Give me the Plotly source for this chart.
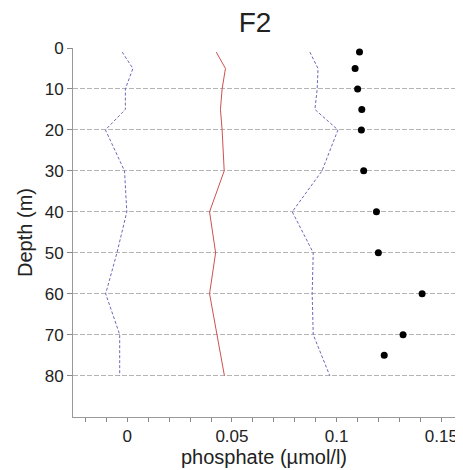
import plotly.graph_objects as go

line_depth = [1, 5, 10, 15, 20, 30, 40, 50, 60, 70, 80]
mean_vals = [0.0425, 0.0469, 0.0453, 0.0445, 0.0453, 0.0463, 0.0393, 0.0422, 0.0393, 0.0428, 0.0464]
lower_vals = [-0.0024, 0.0027, -0.0009, -0.0009, -0.0104, -0.0013, -0.0002, -0.0049, -0.0103, -0.0036, -0.0036]
upper_vals = [0.0872, 0.0911, 0.0907, 0.0896, 0.1006, 0.0930, 0.0788, 0.0888, 0.0883, 0.0888, 0.0967]

obs_depth = [1, 5, 10, 15, 20, 30, 40, 50, 60, 70, 75]
obs_vals = [0.1109, 0.1088, 0.1100, 0.1120, 0.1118, 0.1129, 0.1190, 0.1199, 0.1408, 0.1317, 0.1227]

x_tickvals = [0, 0.05, 0.1, 0.15]
x_ticktext = ["0", "0.05", "0.1", "0.15"]
y_tickvals = [0, 10, 20, 30, 40, 50, 60, 70, 80]

FONT = "Liberation Sans, Arial, sans-serif"

fig = go.Figure()
fig.add_trace(go.Scatter(x=lower_vals, y=line_depth, mode="lines",
                         line=dict(color="#6a6ab8", width=1, dash="3px,2px")))
fig.add_trace(go.Scatter(x=upper_vals, y=line_depth, mode="lines",
                         line=dict(color="#6a6ab8", width=1, dash="3px,2px")))
fig.add_trace(go.Scatter(x=mean_vals, y=line_depth, mode="lines",
                         line=dict(color="#d05050", width=1)))
fig.add_trace(go.Scatter(x=obs_vals, y=obs_depth, mode="markers",
                         marker=dict(color="black", size=7)))

# page body has an 8px margin, so the figure is sized 8px smaller and shifted accordingly
fig.update_layout(
    width=455, height=462,
    margin=dict(l=65, r=5, t=40, b=53),
    paper_bgcolor="white", plot_bgcolor="white",
    showlegend=False,
    font=dict(family=FONT, color="#222", size=17),
    title=dict(text="F2", x=0.543, xanchor="center", y=0.99, yanchor="top",
               font=dict(size=28, family=FONT, color="#222")),
    xaxis=dict(range=[-0.0259, 0.1565], tickvals=x_tickvals, ticktext=x_ticktext,
               ticks="outside", ticklen=4, tickcolor="#888", showgrid=False,
               showline=True, linecolor="#999", linewidth=1, zeroline=False,
               minor=dict(dtick=0.01, tick0=0, ticks="outside", ticklen=4, tickcolor="#888", showgrid=False),
               title=dict(text="phosphate (µmol/l)", font=dict(size=20), standoff=2),
               tickfont=dict(size=17)),
    yaxis=dict(range=[90.1, 0], tickvals=y_tickvals, ticks="outside", ticklen=5,
               tickcolor="#888", showgrid=True, gridcolor="#b4b4b4", griddash="5px,2px",
               gridwidth=1, showline=True, linecolor="#999", linewidth=1, zeroline=False,
               title=dict(text="Depth (m)", font=dict(size=20), standoff=6),
               tickfont=dict(size=17)),
)

fig.write_html("out.html")
